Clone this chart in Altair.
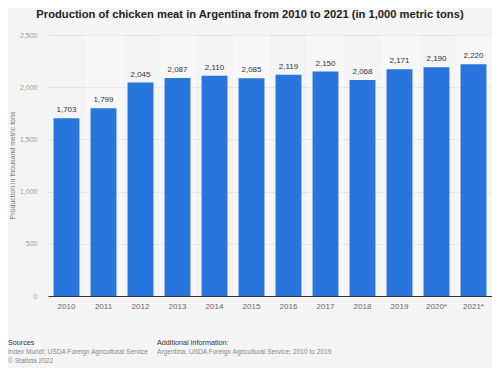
import altair as alt
import pandas as pd

years = ["2010", "2011", "2012", "2013", "2014", "2015", "2016", "2017", "2018", "2019", "2020*", "2021*"]
values = [1703, 1799, 2045, 2087, 2110, 2085, 2119, 2150, 2068, 2171, 2190, 2220]
y_ticks = [0, 500, 1000, 1500, 2000, 2500]

title_text = "Production of chicken meat in Argentina from 2010 to 2021 (in 1,000 metric tons)"
y_title = "Production in thousand metric tons"
sources_head = "Sources"
sources_lines = ["Index Mundi; USDA Foreign Agricultural Service", "© Statista 2022"]
info_head = "Additional Information:"
info_lines = ["Argentina; USDA Foreign Agricultural Service; 2010 to 2019"]

FONT = "Liberation Sans"
W, H = 444, 261

df = pd.DataFrame({
    "year": years,
    "value": values,
    "label": [f"{v:,}" for v in values],
    "stripe": [i % 2 == 1 for i in range(len(years))],
})

x = alt.X(
    "year:N", sort=years,
    scale=alt.Scale(paddingInner=0, paddingOuter=0),
    axis=alt.Axis(title=None, labelAngle=0, labelFontSize=8, labelColor="#666666",
                  labelPadding=6, ticks=False, domainColor="#333333", domainWidth=1,
                  grid=False, labelFont=FONT),
)
y = alt.Y(
    "value:Q",
    scale=alt.Scale(domain=[0, 2500]),
    axis=alt.Axis(values=y_ticks, format=",.0f", title=None, labelFontSize=7,
                  labelColor="#9a9a9a", domain=False, ticks=False,
                  gridColor="#e3e3e3", labelPadding=11, labelFont=FONT),
)

base = alt.Chart(df)

stripes = base.transform_filter("datum.stripe").mark_bar(
    width=alt.RelativeBandSize(1), color="#ffffff", opacity=0.3
).encode(x=x, y=alt.value(0), y2=alt.value(H))

bars = base.mark_bar(width=alt.RelativeBandSize(0.7), color="#2876dd").encode(x=x, y=y)

labels = base.mark_text(dy=-8, fontSize=8, color="#333333", font=FONT).encode(
    x=x, y=y, text="label:N"
)


def txt(s, xv, yv, size=6.6, color="#888888", weight="normal", align="left", angle=0):
    return alt.Chart(pd.DataFrame({"t": [s]})).mark_text(
        fontSize=size, color=color, fontWeight=weight, align=align,
        baseline="middle", font=FONT, angle=angle
    ).encode(x=alt.value(xv), y=alt.value(yv), text="t:N")


annots = [
    txt(title_text, 202, -20, size=11.2, color="#222222", weight="bold", align="center"),
    txt(y_title, -35, H / 2, size=7, color="#777777", align="center", angle=270),
    txt(sources_head, -40, 308, size=7.2, color="#333333"),
    txt(sources_lines[0], -40, 317),
    txt(sources_lines[1], -40, 326),
    txt(info_head, 109, 308, size=7.2, color="#333333"),
    txt(info_lines[0], 109, 317),
]

chart = alt.layer(stripes, bars, labels, *annots).properties(
    width=W, height=H,
    autosize="none",
    padding={"left": 40, "top": 27, "right": 0, "bottom": 72},
    background="#f4f4f4",
).configure_view(stroke=None)

chart.save("out.html", embed_options={"renderer": "svg", "actions": False})
